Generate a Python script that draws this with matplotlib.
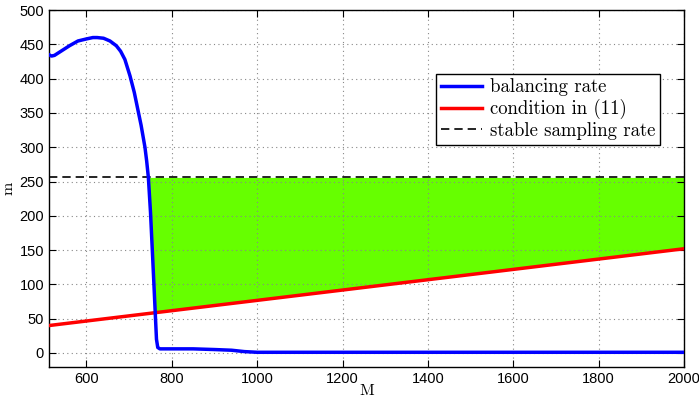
import numpy as np
import matplotlib.pyplot as plt

# balancing rate
bal_M = [512, 518, 525, 540, 560, 580, 600, 615, 625, 640, 655, 670, 680, 690,
         702, 712, 720, 728, 737, 741, 745, 750, 755, 758, 761, 764, 767, 772,
         800, 850, 900, 940, 970, 1000, 1500, 2000]
bal_m = [435, 433, 434, 440, 448, 455, 458, 460, 460, 459, 455, 448, 440, 428,
         404, 380, 356, 332, 300, 280, 256, 205, 140, 100, 60, 20, 8, 6,
         6, 6, 5, 4, 2, 1, 1, 1]

# condition in (11)
cond_M = [512, 2000]
cond_m = [40, 152]

stable_rate = 256

def main():
    plt.rcParams['font.family'] = ['Liberation Sans', 'DejaVu Sans']
    fig = plt.figure(figsize=(6.99, 4.05), dpi=100)
    ax = fig.add_axes([0.070, 0.0946, 0.9085, 0.8804])

    # feasible region between the curves
    bm = np.array(bal_M, dtype=float)
    bv = np.array(bal_m, dtype=float)
    red = np.interp(bm, cond_M, cond_m)
    low = np.maximum(bv, red)
    mask = bv <= stable_rate
    ax.fill_between(bm[mask], low[mask], stable_rate, color='#66ff00', lw=0)

    ax.plot(bal_M, bal_m, color='#0000ff', lw=2.5, label='balancing rate', zorder=4)
    ax.plot(cond_M, cond_m, color='#ff0000', lw=2.5, label='condition in (11)', zorder=3)
    ax.axhline(stable_rate, color='black', ls=(0, (5, 3)), lw=1.2,
               label='stable sampling rate', zorder=3)

    ax.set_xlim(512, 2000)
    ax.set_ylim(-20, 500)
    ax.set_xticks(np.arange(600, 2001, 200))
    ax.set_yticks(np.arange(0, 501, 50))
    ax.tick_params(direction='in', top=True, right=True, labelsize=10.5, length=5)
    ax.grid(True, ls=(0, (1, 3)), color='#888888', lw=0.8)
    for s in ax.spines.values():
        s.set_linewidth(1.0)

    ax.set_xlabel('M', fontfamily='cmr10', fontsize=11.5, labelpad=-1)
    ax.set_ylabel('m', fontfamily='cmr10', fontsize=11.5, labelpad=3)

    leg = ax.legend(loc='upper right', bbox_to_anchor=(0.962, 0.822),
                    prop={'family': 'cmr10', 'size': 13.5}, fancybox=False,
                    edgecolor='black', framealpha=1, borderpad=0.25,
                    handlelength=2.2, handletextpad=0.4, labelspacing=0.15,
                    borderaxespad=0)
    leg.get_frame().set_linewidth(1.0)

    fig.savefig('out.png', dpi=100)

if __name__ == '__main__':
    main()
